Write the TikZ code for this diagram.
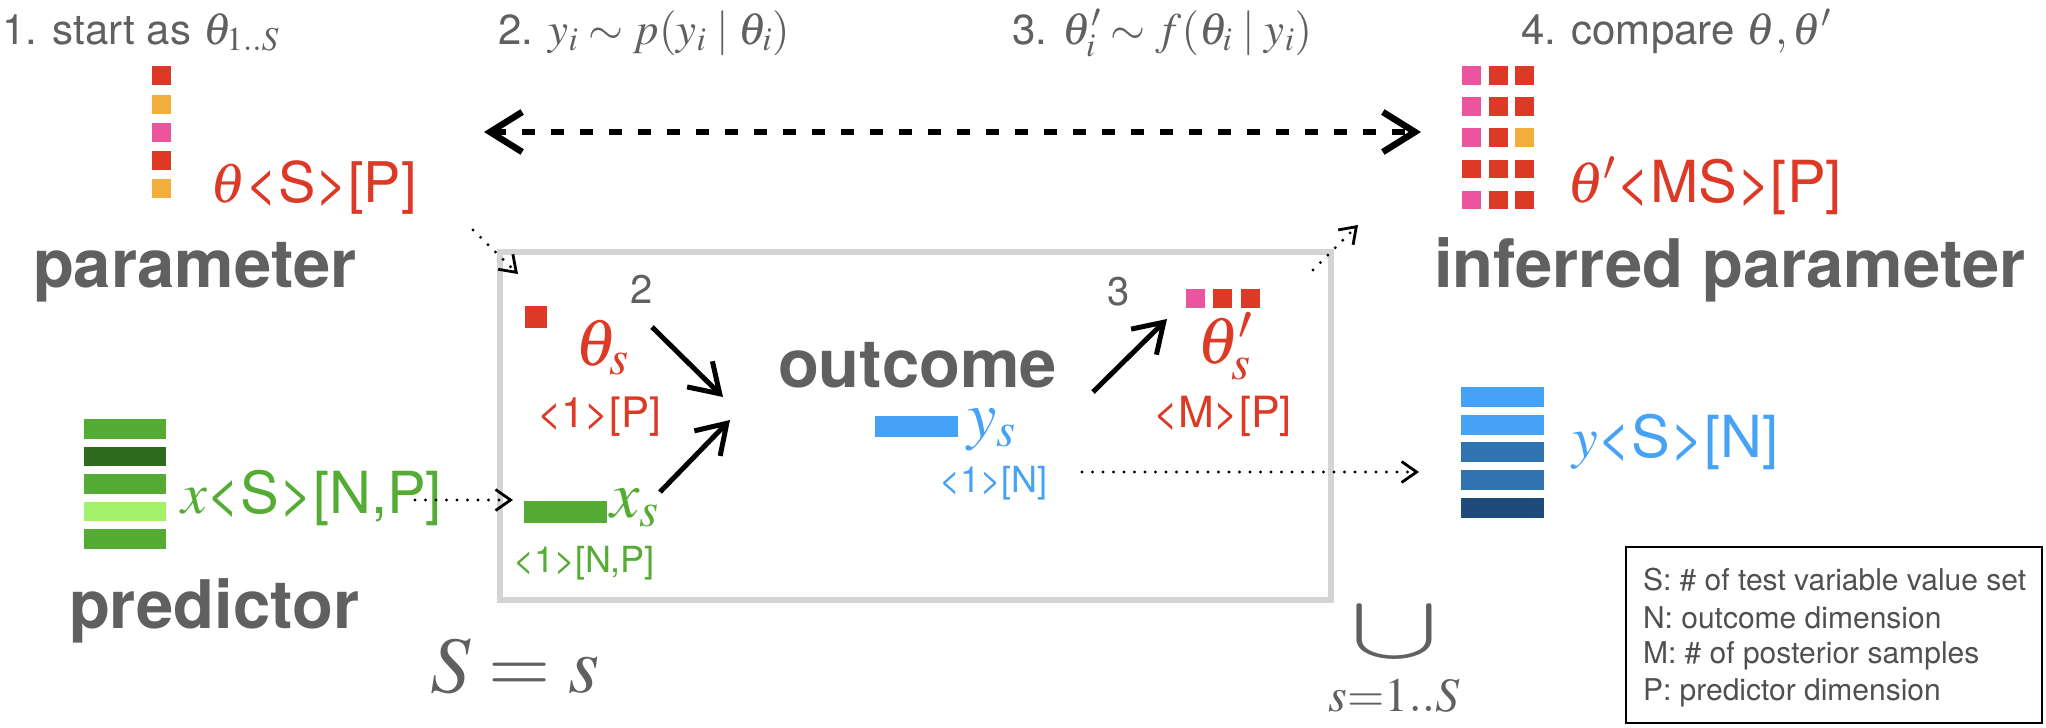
\documentclass[tikz,border=0pt]{standalone}
\usepackage{mathptmx}
\usepackage{graphicx}
\usepackage{fontspec}
\setmainfont{TeX Gyre Heros}
\usetikzlibrary{arrows.meta}
\newcommand\pxfont[1]{\fontsize{#1}{#1}\selectfont}
\definecolor{cred}{RGB}{220,58,38}
\definecolor{corange}{RGB}{242,173,60}
\definecolor{cpink}{RGB}{235,85,158}
\definecolor{cgreen}{RGB}{85,172,53}
\definecolor{cdgreen}{RGB}{46,107,31}
\definecolor{clgreen}{RGB}{163,240,106}
\definecolor{cblue}{RGB}{69,162,245}
\definecolor{cmblue}{RGB}{47,115,176}
\definecolor{cdblue}{RGB}{30,75,122}
\definecolor{cbox}{RGB}{212,212,212}
\definecolor{ctext}{RGB}{96,96,96}
\definecolor{clegend}{RGB}{80,80,80}
\begin{document}
\begin{tikzpicture}[x=1pt,y=-1pt,
  lbl/.style={inner sep=0pt,outer sep=0pt,anchor=base west},
  toptext/.style={lbl,text=ctext,font=\pxfont{42}},
  bold/.style={lbl,text=ctext,font=\pxfont{67}\bfseries},
  biglbl/.style={lbl,font=\pxfont{58}},
  smalllbl/.style={lbl,font=\pxfont{42}},
  tinylbl/.style={lbl,font=\pxfont{36}},
  mathlbl/.style={lbl,font=\pxfont{66}},
  steplbl/.style={lbl,text=ctext,font=\pxfont{40}},
  legendtxt/.style={lbl,text=clegend,font=\pxfont{30}},
  bigarrow/.style={line width=5pt,-{Straight Barb[length=28pt,width=36pt]}},
  dotarrow/.style={line width=3.2pt,line cap=round,dash pattern=on 0pt off 10.5pt,
    -{Straight Barb[length=15pt,width=21pt,line width=2.8pt]}},
  dasharrow/.style={line width=6.5pt,dash pattern=on 13pt off 16pt,
    {Straight Barb[length=32pt,width=40pt]}-{Straight Barb[length=32pt,width=40pt]}},
]
\useasboundingbox (0,0) rectangle (2046,728);

% top step texts
\node[toptext] (s1) at (2,44) {1. start as {\pxfont{45}$\theta_{1..S}$}};
\node[toptext] (s2) at (498,44) {2. {\pxfont{45}$y_i \sim p(y_i \mid \theta_i)$}};
\node[toptext] (s3) at (1012,44) {3. {\pxfont{45}$\theta'_i \sim f(\theta_i \mid y_i)$}};
\node[toptext] (s4) at (1521,44) {4. compare {\pxfont{45}$\theta,\theta'$}};

% left theta column
\foreach \yy/\cc in {66/cred,95/corange,123/cpink,151/cred,179/corange}
  \fill[\cc] (152,\yy) rectangle ++(19,19);
\node[biglbl,text=cred,font=\pxfont{56}] (thS) at (210,202) {$\theta$<S>[P]};
\node[bold] (par) at (33,287) {parameter};

% predictor bars
\foreach \yy/\cc in {419/cgreen,446.6/cdgreen,474.2/cgreen,501.8/clgreen,529.4/cgreen}
  \fill[\cc] (84,\yy) rectangle ++(82,19.5);
\node[biglbl,text=cgreen] (xS) at (181,513) {$x$<S>[N,P]};
\node[bold] (pred) at (69,628) {predictor};

% right inferred grid
\foreach \ya/\yb/\yc [count=\r from 0] in {cpink/cred/cred,cpink/cred/cred,cpink/cred/corange,cred/cred/cred,cpink/cred/cred}{
  \pgfmathsetmacro\ry{66+31.2*\r}
  \fill[\ya] (1462,\ry) rectangle ++(19,18.5);
  \fill[\yb] (1489,\ry) rectangle ++(19,18.5);
  \fill[\yc] (1515,\ry) rectangle ++(19,18.5);
}
\node[biglbl,text=cred] (thpS) at (1567,202) {$\theta'$<MS>[P]};
\node[bold] (inf) at (1434,287) {inferred parameter};

% outcome bars
\foreach \yy/\cc in {387/cblue,415/cblue,442/cmblue,470/cmblue,498/cdblue}
  \fill[\cc] (1461,\yy) rectangle ++(83,20);
\node[biglbl,text=cblue] (yS) at (1572,457) {$y$<S>[N]};

% plate box
\draw[cbox,line width=6pt] (500,252) rectangle (1331,600);

% inside the plate
\fill[cred] (525,306) rectangle (547,328);
\node[mathlbl,text=cred] (ths) at (575,365) {$\theta_s$};
\node[smalllbl,text=cred] (ths1) at (537,427) {<1>[P]};
\node[steplbl] (two) at (630,303) {2};

\fill[cgreen] (524,501) rectangle (607,523);
\node[mathlbl,text=cgreen] (xs) at (610,517) {$x_s$};
\node[tinylbl,text=cgreen] (xs1) at (513,572) {<1>[N,P]};

\node[bold] (out) at (778,387) {outcome};
\fill[cblue] (875,416) rectangle (958,437);
\node[mathlbl,text=cblue] (ys) at (967,437) {$y_s$};
\node[tinylbl,text=cblue] (ys1) at (939,492) {<1>[N]};

\node[steplbl] (three) at (1107,305) {3};
\fill[cpink] (1186,289) rectangle ++(19,19);
\fill[cred] (1213,289) rectangle ++(19,19);
\fill[cred] (1241,289) rectangle ++(19,19);
\node[mathlbl,text=cred] (thps) at (1197,363) {$\theta'_s$};
\node[smalllbl,text=cred,font=\pxfont{43}] (thps1) at (1153,427) {<M>[P]};

% solid arrows
\coordinate (a1s) at (652,327); \coordinate (a1e) at (723,397);
\coordinate (a2s) at (660,492); \coordinate (a2e) at (730,420);
\coordinate (a3s) at (1093,392); \coordinate (a3e) at (1167,319);
\draw[bigarrow] (a1s) -- (a1e);
\draw[bigarrow] (a2s) -- (a2e);
\draw[bigarrow] (a3s) -- (a3e);

% dashed double arrow
\coordinate (dL) at (484,132); \coordinate (dR) at (1421,132);
\draw[dasharrow] (dL) -- (dR);

% dotted arrows
\coordinate (p1s) at (473,230); \coordinate (p1e) at (518,274);
\coordinate (p2s) at (1313,270); \coordinate (p2e) at (1358,225);
\coordinate (p3s) at (415,500); \coordinate (p3e) at (513,500);
\coordinate (p4s) at (1082,472); \coordinate (p4e) at (1419,472);
\draw[dotarrow] (p1s) -- (p1e);
\draw[dotarrow] (p2s) -- (p2e);
\draw[dotarrow] (p3s) -- (p3e);
\draw[dotarrow] (p4s) -- (p4e);

% bottom math
\node[lbl,text=ctext,font=\pxfont{80}] (Ss) at (430,692) {$S = s$};
\node[inner sep=0pt,text=ctext,font=\pxfont{90}] (cup) at (1394,633) {\scalebox{1.5}[1]{$\cup$}};
\node[inner sep=0pt,anchor=base,text=ctext,font=\pxfont{48}] (cupsub) at (1394,711) {$s{=}1..S$};

% legend
\draw[black,line width=1.5pt] (1626,547) rectangle (2042,723);
\node[legendtxt] (l1) at (1643,590) {S: \# of test variable value set};
\node[legendtxt] (l2) at (1643,628) {N: outcome dimension};
\node[legendtxt] (l3) at (1643,663) {M: \# of posterior samples};
\node[legendtxt] (l4) at (1643,700) {P: predictor dimension};
\end{tikzpicture}
\end{document}
